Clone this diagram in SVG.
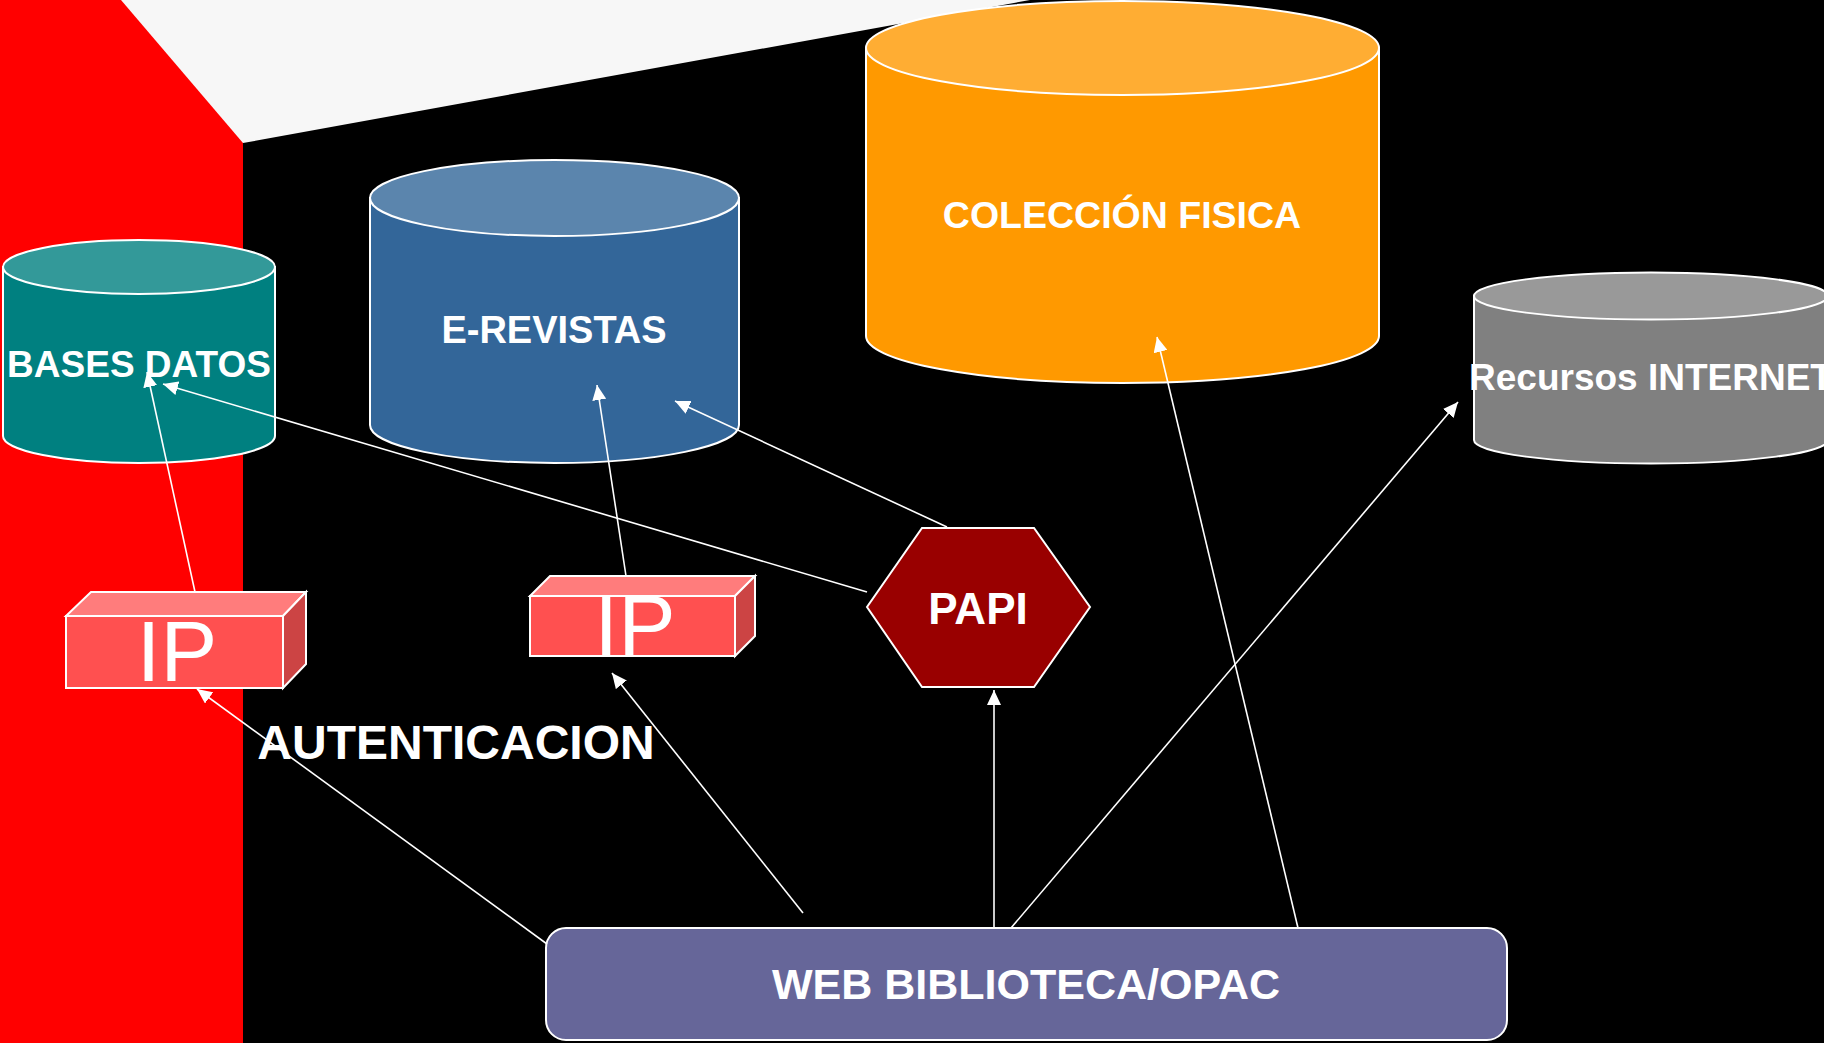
<svg xmlns="http://www.w3.org/2000/svg" width="1824" height="1043" viewBox="0 0 1824 1043">
<defs>
<style>
.lbl{font-family:"Liberation Sans",Arial,sans-serif;font-weight:bold;fill:#fff;text-anchor:middle}
.ip{font-family:"Liberation Sans",Arial,sans-serif;font-weight:normal;fill:#fff;text-anchor:middle}
.edge{stroke:#fff;stroke-width:1.6;fill:none;marker-end:url(#arr)}
.st{stroke:#fff;stroke-width:2}
</style>
<marker id="arr" markerUnits="userSpaceOnUse" markerWidth="16" markerHeight="14" refX="15" refY="7" orient="auto" viewBox="0 0 16 14">
<path d="M0,0 L15,7 L0,14 z" fill="#fff"/>
</marker>
</defs>
<rect x="0" y="0" width="1824" height="1043" fill="#000"/>
<rect x="0" y="0" width="243" height="1043" fill="#FF0000"/>
<polygon points="121,0 1030,0 243,143" fill="#F7F7F7"/>

<g id="node-bases-datos">
<path class="st" d="M3,267 V436 A136,27 0 0 0 275,436 V267 Z" fill="#008080"/>
<ellipse class="st" cx="139" cy="267" rx="136" ry="27" fill="#339999"/>
<text class="lbl" x="139" y="377" font-size="37">BASES DATOS</text>
</g>

<g id="node-e-revistas">
<path class="st" d="M370,198 V425 A184.5,38 0 0 0 739,425 V198 Z" fill="#336699"/>
<ellipse class="st" cx="554.5" cy="198" rx="184.5" ry="38" fill="#5B85AD"/>
<text class="lbl" x="554" y="343" font-size="38">E-REVISTAS</text>
</g>

<g id="node-coleccion-fisica">
<path class="st" d="M866,48 V336 A256.5,47 0 0 0 1379,336 V48 Z" fill="#FF9900"/>
<ellipse class="st" cx="1122.5" cy="48" rx="256.5" ry="47" fill="#FFAD33"/>
<text class="lbl" x="1122" y="228" font-size="37.5">COLECCIÓN FISICA</text>
</g>

<g id="node-recursos-internet">
<path class="st" d="M1474,296 V440 A177,23.5 0 0 0 1828,440 V296 Z" fill="#808080"/>
<ellipse class="st" cx="1651" cy="296" rx="177" ry="23.5" fill="#999999"/>
<text class="lbl" x="1651" y="390" font-size="37">Recursos INTERNET</text>
</g>

<g id="node-ip-1">
<polygon class="st" points="66,616 91,592 306,592 283,616" fill="#FF7C7C"/>
<polygon class="st" points="283,616 306,592 306,664 283,688" fill="#CC4444"/>
<rect class="st" x="66" y="616" width="217" height="72" fill="#FF5050"/>
<text class="ip" x="177" y="681" font-size="85">IP</text>
</g>

<g id="node-ip-2">
<polygon class="st" points="530,596 550,576 755,576 735,596" fill="#FF7C7C"/>
<polygon class="st" points="735,596 755,576 755,636 735,656" fill="#CC4444"/>
<rect class="st" x="530" y="596" width="205" height="60" fill="#FF5050"/>
<text class="ip" x="635" y="655" font-size="86">IP</text>
</g>

<g id="node-papi">
<polygon class="st" points="922,528 1034,528 1090,607 1034,687 922,687 867,607" fill="#990000"/>
<text class="lbl" x="978" y="624" font-size="44">PAPI</text>
</g>

<g id="node-web">
<rect class="st" x="546" y="928" width="961" height="112" rx="20" ry="20" fill="#666699"/>
<text class="lbl" x="1026" y="999" font-size="43">WEB BIBLIOTECA/OPAC</text>
</g>

<g id="label-autenticacion">
<text class="lbl" x="456" y="759" font-size="48">AUTENTICACION</text>
</g>

<g id="connectors">
<line class="edge" x1="195" y1="592" x2="147" y2="372"/>
<line class="edge" x1="867" y1="592" x2="163" y2="384"/>
<line class="edge" x1="626" y1="576" x2="597" y2="385"/>
<line class="edge" x1="947" y1="527" x2="675" y2="401"/>
<line class="edge" x1="547" y1="944" x2="197" y2="689"/>
<line class="edge" x1="803" y1="913" x2="612" y2="673"/>
<line class="edge" x1="994" y1="928" x2="994" y2="690"/>
<line class="edge" x1="1011" y1="928" x2="1458" y2="402"/>
<line class="edge" x1="1298" y1="928" x2="1157" y2="337"/>
</g>
</svg>
